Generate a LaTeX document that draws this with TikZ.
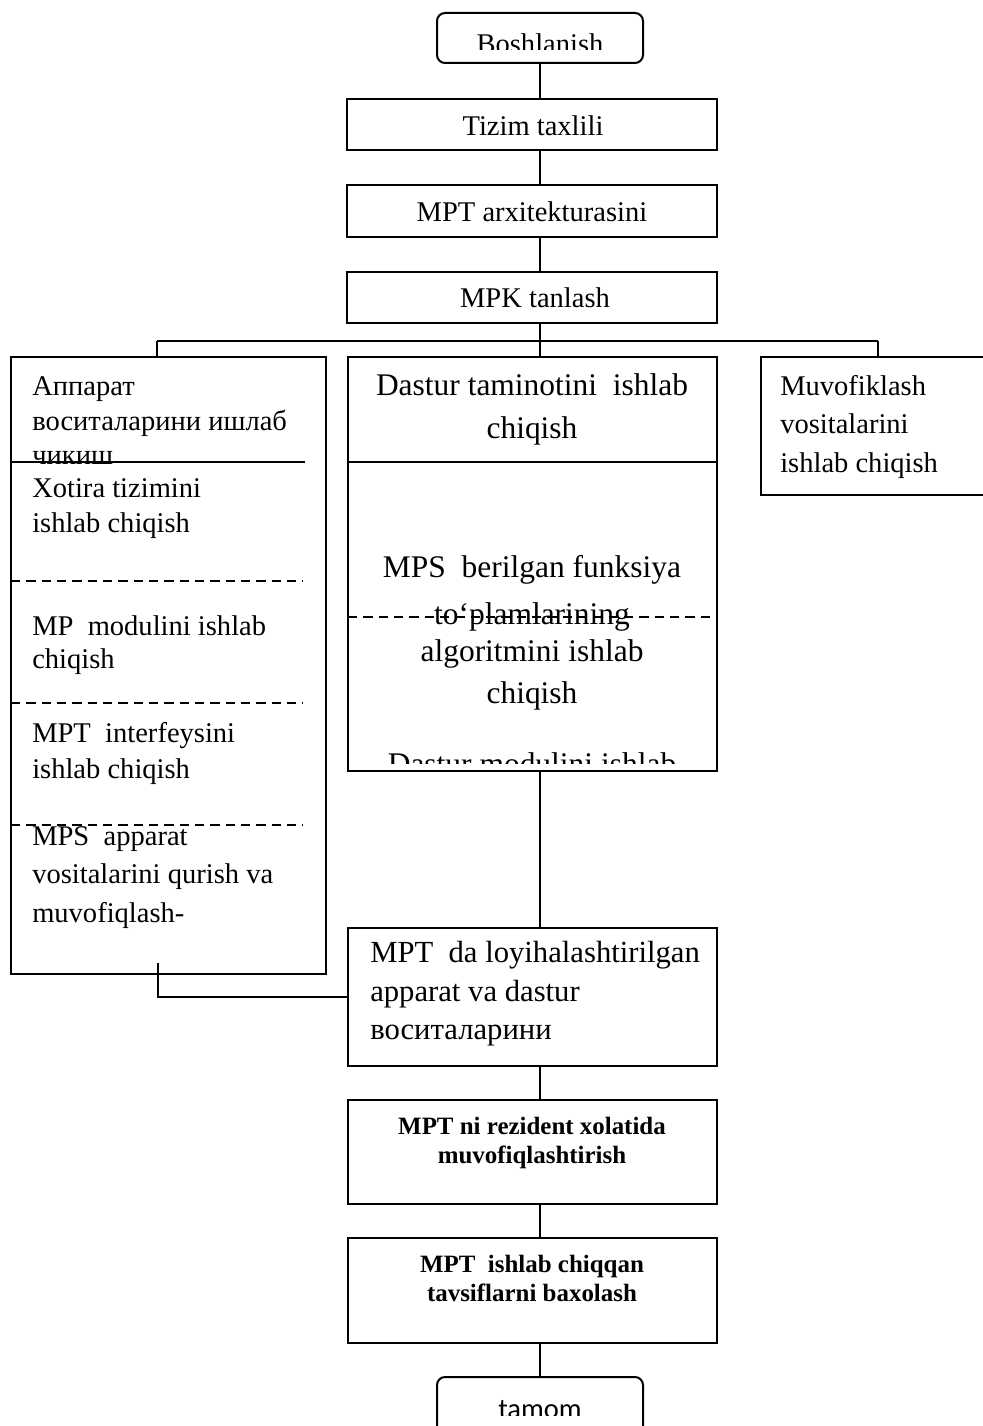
\documentclass[tikz,border=0pt]{standalone}
\usepackage{fontspec}
\setmainfont{Liberation Serif}
\newfontfamily\carlito{Carlito}
\usetikzlibrary{fit}
\tikzset{
  box/.style={draw, line width=1.5pt, inner sep=0pt},
  rbox/.style={box, rounded corners=6pt},
  conn/.style={line width=1.5pt},
  sepline/.style={line width=1.5pt, dash pattern=on 7pt off 4.5pt},
  solidsep/.style={line width=1.5pt},
  tl/.style={anchor=base west, inner sep=0pt, font=\fontsize{21.4}{25}\selectfont},
  tc/.style={anchor=base, inner sep=0pt, font=\fontsize{21.4}{25}\selectfont},
  tcbig/.style={anchor=base, inner sep=0pt, font=\fontsize{23.6}{28}\selectfont},
  tlbig/.style={anchor=base west, inner sep=0pt, font=\fontsize{23}{28}\selectfont},
  tbold/.style={anchor=base, inner sep=0pt, font=\fontsize{18.7}{22}\selectfont\bfseries},
  tsans/.style={anchor=base, inner sep=0pt, font=\fontsize{21.4}{25}\selectfont\carlito},
}
\begin{document}
\begin{tikzpicture}[x=0.75pt,y=-0.75pt]
\useasboundingbox (0,0) rectangle (982,1426);

% boxes
\node[rbox, fit={(437,13) (643,63)}] (start) {};
\node[box, fit={(347,99) (717,150)}] (tizim) {};
\node[box, fit={(347,185) (717,237)}] (arx) {};
\node[box, fit={(347,272) (717,323)}] (mpk) {};
\node[box, fit={(11,357) (326,974)}] (hw) {};
\node[box, fit={(348,357) (717,771)}] (sw) {};
\node[box, fit={(761,357) (995,495)}] (mv) {};
\node[box, fit={(348,928) (717,1066)}] (loy) {};
\node[box, fit={(348,1100) (717,1204)}] (rez) {};
\node[box, fit={(348,1238) (717,1343)}] (bax) {};
\node[rbox, fit={(437,1377) (643,1445)}] (end) {};

% separators inside boxes
\coordinate (hwA) at (11,462);  \coordinate (hwB) at (305,462);
\draw[solidsep] (hwA) -- (hwB);
\coordinate (d1a) at (11,581);  \coordinate (d1b) at (303,581);
\coordinate (d2a) at (11,703);  \coordinate (d2b) at (303,703);
\coordinate (d3a) at (11,825);  \coordinate (d3b) at (303,825);
\draw[sepline] (d1a) -- (d1b);
\draw[sepline] (d2a) -- (d2b);
\draw[sepline] (d3a) -- (d3b);
\coordinate (swA) at (348,462); \coordinate (swB) at (717,462);
\draw[solidsep] (swA) -- (swB);
\coordinate (swC) at (348,617); \coordinate (swD) at (717,617);
\draw[sepline] (swC) -- (swD);

% connectors
\coordinate (busL) at (157,341);
\coordinate (busM) at (540,341);
\coordinate (busR) at (878,341);
\draw[conn] (start.south -| busM) -- (tizim.north -| busM);
\draw[conn] (tizim.south -| busM) -- (arx.north -| busM);
\draw[conn] (arx.south -| busM) -- (mpk.north -| busM);
\draw[conn] (mpk.south -| busM) -- (busM);
\draw[conn] (busL) -- (busR);
\draw[conn] (busL) -- (hw.north -| busL);
\draw[conn] (busM) -- (sw.north -| busM);
\draw[conn] (busR) -- (mv.north -| busR);
\draw[conn] (sw.south -| busM) -- (loy.north -| busM);
\coordinate (jL) at (158,963);
\coordinate (jR) at (348,997);
\draw[conn] (jL) |- (jR);
\draw[conn] (loy.south -| busM) -- (rez.north -| busM);
\draw[conn] (rez.south -| busM) -- (bax.north -| busM);
\draw[conn] (bax.south -| busM) -- (end.north -| busM);

% texts
\begin{scope}
\clip (437,13) rectangle (643,50);
\node[tc] (tStart) at (540,54) {Boshlanish};
\end{scope}
\node[tc] (tTizim) at (533,136) {Tizim taxlili};
\node[tc] (tArx) at (532,222) {MPT arxitekturasini};
\node[tc] (tMpk) at (535,307) {MPK tanlash};

\begin{scope}
\clip (11,357) rectangle (326,463);
\node[tl] (h1) at (32,395) {Аппарат};
\node[tl] (h2) at (32,430) {воситаларини ишлаб};
\node[tl] (h3) at (32,464) {чиқиш};
\end{scope}
\node[tl] (x1) at (32,497) {Xotira tizimini};
\node[tl] (x2) at (32,532) {ishlab chiqish};
\node[tl] (m1) at (32,635) {MP\ \ modulini ishlab};
\node[tl] (m2) at (32,668) {chiqish};
\node[tl] (i1) at (32,742) {MPT\ \ interfeysini};
\node[tl] (i2) at (32,778) {ishlab chiqish};
\node[tl] (a1) at (32,845) {MPS\ \ apparat};
\node[tl] (a2) at (32,883) {vositalarini qurish va};
\node[tl] (a3) at (32,922) {muvofiqlash-};

\node[tcbig] (s1) at (532,395) {Dastur taminotini\ \ ishlab};
\node[tcbig] (s2) at (532,438) {chiqish};
\begin{scope}
\clip (348,462) rectangle (717,763);
\node[tcbig] (s3) at (532,577) {MPS\ \ berilgan funksiya};
\node[tcbig] (s4) at (532,624) {to‘plamlarining};
\node[tcbig] (s5) at (532,661) {algoritmini ishlab};
\node[tcbig] (s6) at (532,703) {chiqish};
\node[tcbig] (s7) at (532,774) {Dastur modulini ishlab};
\end{scope}

\node[tl] (v1) at (780,395) {Muvofiklash};
\node[tl] (v2) at (780,433) {vositalarini};
\node[tl] (v3) at (780,472) {ishlab chiqish};

\node[tlbig] (l1) at (370,962) {MPT\ \ da loyihalashtirilgan};
\node[tlbig] (l2) at (370,1001) {apparat va dastur};
\node[tlbig] (l3) at (370,1039) {воситаларини};

\node[tbold] (r1) at (532,1134) {MPT ni rezident xolatida};
\node[tbold] (r2) at (532,1163) {muvofiqlashtirish};
\node[tbold] (b1) at (532,1272) {MPT\ \ ishlab chiqqan};
\node[tbold] (b2) at (532,1301) {tavsiflarni baxolash};

\begin{scope}
\clip (437,1377) rectangle (643,1415);
\node[tsans] (tEnd) at (540,1418) {tamom};
\end{scope}
\end{tikzpicture}
\end{document}
